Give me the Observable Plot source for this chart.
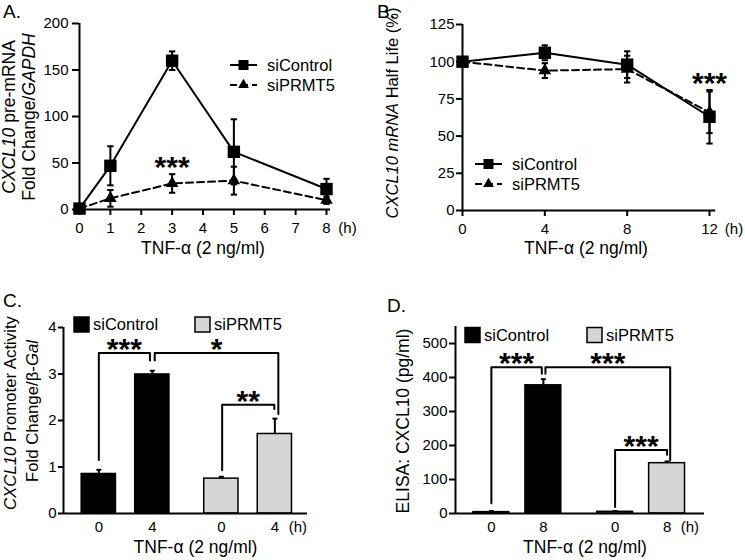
<!DOCTYPE html>
<html>
<head>
<meta charset="utf-8">
<script src="https://cdn.jsdelivr.net/npm/d3@7"></script>
<script src="https://cdn.jsdelivr.net/npm/@observablehq/plot@0.6"></script>
<style>
  html, body { margin: 0; padding: 0; background: #fff; }
  #fig { position: relative; width: 745px; height: 560px; overflow: hidden; background: #fff; }
  .panel { position: absolute; }
  .panel svg { display: block; }
</style>
</head>
<body>
<div id="fig"></div>
<script>
// ---------------- DATA ----------------
// Panel A: CXCL10 pre-mRNA fold change
const timesA = [0, 1, 3, 5, 8];
const ctrlA = [1, 47, 160, 62, 22];
const ctrlAErr = [0, 21, 10, 35, 11];
const prmtA = [1, 12, 28, 31, 10];
const prmtAErr = [0, 9, 10, 15, 4];
const xTicksA = [0, 1, 2, 3, 4, 5, 6, 7, 8];
const yTicksA = [0, 50, 100, 150, 200];
const sigA = [{t: 3, s: "siPRMT5", label: "***"}];

// Panel B: CXCL10 mRNA half life (%)
const timesB = [0, 4, 8, 12];
const ctrlB = [100, 106, 98, 63];
const ctrlBErr = [0, 5, 9, 18];
const prmtB = [100, 94, 95, 66];
const prmtBErr = [0, 5, 9, 14];
const yTicksB = [0, 25, 50, 75, 100, 125];
const sigB = [{t: 12, s: "siControl", label: "***"}];

// Panel C: promoter activity
const groups = ["siControl", "siPRMT5"];
const timeLabelsC = ["0", "4"];
const valsC = [0.85, 2.99, 0.75, 1.71];
const errC = [0.09, 0.08, 0.04, 0.33];
const yTicksC = [0, 1, 2, 3, 4];
const bracketsC = [
  {from: 0, to: 1, fromOff: 0, toOff: -0.045, yFrom: 1.15, yTop: 3.45, yTo: 3.29, label: "***"},
  {from: 1, to: 3, fromOff: 0.045, toOff: 0.065, yFrom: 3.29, yTop: 3.45, yTo: 2.14, label: "*"},
  {from: 2, to: 3, fromOff: 0.015, toOff: -0.01, yFrom: 0.93, yTop: 2.34, yTo: 2.25, label: "**"}
];

// Panel D: ELISA CXCL10 (pg/ml)
const timeLabelsD = ["0", "8"];
const valsD = [4, 377, 5, 148];
const errD = [3, 18, 2, 5];
const yTicksD = [0, 100, 200, 300, 400, 500];
const bracketsD = [
  {from: 0, to: 1, fromOff: 0, toOff: -0.03, yFrom: 30, yTop: 430, yTo: 411, label: "***"},
  {from: 1, to: 3, fromOff: 0.04, toOff: 0.06, yFrom: 411, yTop: 430, yTo: 156, label: "***"},
  {from: 2, to: 3, fromOff: 0, toOff: 0, yFrom: 19, yTop: 187, yTo: 173, label: "***"}
];

// ---------------- HELPERS ----------------
const FONT = '"Liberation Sans", Arial, Helvetica, sans-serif';
const STYLE = {fontFamily: FONT, fontSize: "15px", color: "black", background: "white", overflow: "visible"};
const capSym = { draw(ctx, size) { const w = Math.sqrt(size); ctx.moveTo(-w / 2, 0); ctx.lineTo(w / 2, 0); } };

function place(node, left, top) {
  const div = document.createElement("div");
  div.className = "panel";
  div.style.left = left + "px";
  div.style.top = top + "px";
  div.appendChild(node);
  document.getElementById("fig").appendChild(div);
}

function addText(svg, x, y, parts, {size = 17, rotate = false, anchor = "start", dy = null, weight = null} = {}) {
  const t = d3.select(svg).append("text")
    .attr("font-family", FONT).attr("font-size", size).attr("fill", "black")
    .attr("text-anchor", anchor)
    .attr("transform", rotate ? `translate(${x},${y}) rotate(-90)` : `translate(${x},${y})`);
  if (dy) t.attr("dy", dy);
  if (weight) t.attr("font-weight", weight);
  for (const [s, it] of parts) t.append("tspan").attr("font-style", it ? "italic" : "normal").text(s);
  return t;
}

function lineLegend(svg, x0, x1, tx, rows) {
  const g = d3.select(svg).append("g");
  for (const r of rows) {
    g.append("line").attr("x1", x0).attr("x2", x1).attr("y1", r.y).attr("y2", r.y)
      .attr("stroke", "black").attr("stroke-width", 2).attr("stroke-dasharray", r.dash || null);
    g.append("path").attr("d", d3.symbol(r.symbol, r.size)())
      .attr("transform", `translate(${(x0 + x1) / 2},${r.y})`).attr("fill", "black");
    addText(svg, tx, r.y, [[r.label, false]], {size: 16.5, dy: "0.35em"});
  }
}

function boxLegend(svg, rows, y, s) {
  for (const r of rows) {
    d3.select(svg).append("rect").attr("x", r.x).attr("y", y - s / 2).attr("width", s).attr("height", s)
      .attr("fill", r.fill).attr("stroke", "black").attr("stroke-width", 1.5);
    addText(svg, r.x + s + 4, y, [[r.label, false]], {size: 16.5, dy: "0.35em"});
  }
}

function seriesRows(times, c, ce, p, pe) {
  return [
    ...times.map((t, i) => ({t, v: c[i], e: ce[i], s: "siControl"})),
    ...times.map((t, i) => ({t, v: p[i], e: pe[i], s: "siPRMT5"}))
  ];
}

function sigPoints(rows, sig) {
  return sig.map(k => {
    const r = rows.find(d => d.t === k.t && d.s === k.s);
    return {t: k.t, y: r.v + r.e, label: k.label};
  });
}

function lineMarks(rows) {
  const ctrl = rows.filter(d => d.s === "siControl");
  const prmt = rows.filter(d => d.s === "siPRMT5");
  const we = rows.filter(d => d.e > 0);
  return [
    Plot.ruleX(we, {x: "t", y1: d => d.v - d.e, y2: d => d.v + d.e, stroke: "black", strokeWidth: 2}),
    Plot.dot(we, {x: "t", y: d => d.v + d.e, symbol: capSym, r: 3.6, stroke: "black", strokeWidth: 2, fill: "none"}),
    Plot.dot(we, {x: "t", y: d => d.v - d.e, symbol: capSym, r: 3.6, stroke: "black", strokeWidth: 2, fill: "none"}),
    Plot.line(ctrl, {x: "t", y: "v", stroke: "black", strokeWidth: 2}),
    Plot.line(prmt, {x: "t", y: "v", stroke: "black", strokeWidth: 2, strokeDasharray: "7,4"}),
    Plot.dot(ctrl, {x: "t", y: "v", symbol: "square", r: 7, fill: "black", stroke: "none"}),
    Plot.dot(prmt, {x: "t", y: "v", symbol: "triangle", r: 4.7, fill: "black", stroke: "none"})
  ];
}

function barRows(labels, vals, errs, gap) {
  return groups.flatMap((g, gi) => labels.map((t, ti) => ({
    g, t, pos: gi * gap + ti, v: vals[gi * labels.length + ti], e: errs[gi * labels.length + ti]
  })));
}

function barMarks(bars, brackets, halfW) {
  const pts = brackets.flatMap((b, i) => {
    const x1 = bars[b.from].pos + b.fromOff, x2 = bars[b.to].pos + b.toOff;
    return [{id: i, x: x1, y: b.yFrom}, {id: i, x: x1, y: b.yTop}, {id: i, x: x2, y: b.yTop}, {id: i, x: x2, y: b.yTo}];
  });
  const labs = brackets.map(b => ({
    x: ((bars[b.from].pos + b.fromOff) + (bars[b.to].pos + b.toOff)) / 2, y: b.yTop, label: b.label
  }));
  const rectOpts = {x1: d => d.pos - halfW, x2: d => d.pos + halfW, y1: 0, y2: "v", stroke: "black", strokeWidth: 1.5};
  return [
    Plot.ruleX(bars, {x: "pos", y1: "v", y2: d => d.v + d.e, stroke: "black", strokeWidth: 2}),
    Plot.dot(bars, {x: "pos", y: d => d.v + d.e, symbol: capSym, r: 2.8, stroke: "black", strokeWidth: 2, fill: "none"}),
    Plot.rect(bars.filter(d => d.g === "siControl"), {...rectOpts, fill: "black"}),
    Plot.rect(bars.filter(d => d.g === "siPRMT5"), {...rectOpts, fill: "#d6d6d6"}),
    Plot.line(pts, {x: "x", y: "y", z: "id", stroke: "black", strokeWidth: 2}),
    Plot.text(labs, {x: "x", y: "y", text: "label", fontSize: 30, fontWeight: "bold", lineAnchor: "middle", dy: -3.5})
  ];
}

const tnf = "TNF-\u03b1 (2 ng/ml)";

// ---------------- PANEL A ----------------
{
  const rows = seriesRows(timesA, ctrlA, ctrlAErr, prmtA, prmtAErr);
  const svg = Plot.plot({
    width: 372, height: 280, marginLeft: 79, marginRight: 46, marginTop: 23, marginBottom: 71,
    style: STYLE,
    x: {domain: [0, 8]}, y: {domain: [0, 200]},
    marks: [
      Plot.axisX({ticks: xTicksA, tickSize: 6, tickPadding: 7, tickFormat: d => d, label: null, strokeWidth: 2, fontSize: 15}),
      Plot.axisY({ticks: yTicksA, tickSize: 7, tickPadding: 4, tickFormat: d => d, label: null, strokeWidth: 2, fontSize: 15}),
      Plot.ruleY([0], {x1: 0, x2: 8.13, stroke: "black", strokeWidth: 2}),
      Plot.ruleX([0], {y1: 0, y2: 200, stroke: "black", strokeWidth: 2}),
      ...lineMarks(rows),
      Plot.text(sigPoints(rows, sigA), {x: "t", y: "y", text: "label", fontSize: 30, fontWeight: "bold", lineAnchor: "middle", dy: -6.5}),
      Plot.text(["(h)"], {x: 8.68, y: 0, text: d => d, fontSize: 15, lineAnchor: "top", dy: 13}),
      Plot.text([tnf], {frameAnchor: "bottom", text: d => d, fontSize: 17.5, lineAnchor: "middle", dy: 39})
    ]
  });
  addText(svg, 3, 18, [["A.", false]], {size: 19});
  addText(svg, 15, 117, [["CXCL10", true], [" pre-mRNA", false]], {rotate: true, anchor: "middle", size: 17.5});
  addText(svg, 35, 117, [["Fold Change/", false], ["GAPDH", true]], {rotate: true, anchor: "middle", size: 17.5});
  lineLegend(svg, 230, 257, 267, [
    {y: 65, symbol: d3.symbolSquare, size: 100, label: "siControl"},
    {y: 85, symbol: d3.symbolTriangle, size: 50, label: "siPRMT5", dash: "7,4"}
  ]);
  place(svg, 0, 0);
}

// ---------------- PANEL B ----------------
{
  const rows = seriesRows(timesB, ctrlB, ctrlBErr, prmtB, prmtBErr);
  const svg = Plot.plot({
    width: 373, height: 280, marginLeft: 90, marginRight: 36, marginTop: 24, marginBottom: 70,
    style: STYLE,
    x: {domain: [0, 12]}, y: {domain: [0, 125]},
    marks: [
      Plot.axisX({ticks: timesB, tickSize: 6, tickPadding: 7, tickFormat: d => d, label: null, strokeWidth: 2, fontSize: 15}),
      Plot.axisY({ticks: yTicksB, tickSize: 6, tickPadding: 2, tickFormat: d => d, label: null, strokeWidth: 2, fontSize: 15}),
      Plot.ruleY([0], {x1: 0, x2: 12.3, stroke: "black", strokeWidth: 2}),
      Plot.ruleX([0], {y1: 0, y2: 125, stroke: "black", strokeWidth: 2}),
      ...lineMarks(rows),
      Plot.text(sigPoints(rows, sigB), {x: "t", y: "y", text: "label", fontSize: 30, fontWeight: "bold", lineAnchor: "middle", dy: -6.5}),
      Plot.text(["(h)"], {x: 13.19, y: 0, text: d => d, fontSize: 15, lineAnchor: "top", dy: 13}),
      Plot.text([tnf], {frameAnchor: "bottom", text: d => d, fontSize: 17.5, lineAnchor: "middle", dy: 38})
    ]
  });
  addText(svg, 5, 18, [["B.", false]], {size: 19});
  addText(svg, 26, 113, [["CXCL10 mRNA", true], [" Half Life (%)", false]], {rotate: true, anchor: "middle", size: 16.5});
  lineLegend(svg, 103, 130, 140, [
    {y: 164, symbol: d3.symbolSquare, size: 100, label: "siControl"},
    {y: 184, symbol: d3.symbolTriangle, size: 50, label: "siPRMT5", dash: "7,4"}
  ]);
  place(svg, 372, 0);
}

// ---------------- PANEL C ----------------
{
  const bars = barRows(timeLabelsC, valsC, errC, 2.29);
  const svg = Plot.plot({
    width: 372, height: 280, marginLeft: 63, marginRight: 65, marginTop: 47, marginBottom: 47,
    style: STYLE,
    x: {domain: [-0.66, 3.9]}, y: {domain: [0, 4]},
    marks: [
      Plot.axisX({ticks: bars.map(d => d.pos), tickSize: 0, tickPadding: 8, tickFormat: p => bars.find(d => d.pos === p).t, label: null, fontSize: 15}),
      Plot.axisY({ticks: yTicksC, tickSize: 5, tickPadding: 2, tickFormat: d => d, label: null, strokeWidth: 2, fontSize: 15}),
      ...barMarks(bars, bracketsC, 0.32),
      Plot.ruleY([0], {x1: -0.66, x2: 3.9, stroke: "black", strokeWidth: 2}),
      Plot.ruleX([-0.66], {y1: 0, y2: 4, stroke: "black", strokeWidth: 2}),
      Plot.text(["(h)"], {x: 3.72, y: 0, text: d => d, fontSize: 15, lineAnchor: "top", dy: 8}),
      Plot.text([tnf], {frameAnchor: "bottom", text: d => d, fontSize: 17.5, lineAnchor: "middle", dy: 34, dx: 10})
    ]
  });
  addText(svg, 3, 27, [["C.", false]], {size: 19});
  addText(svg, 16, 133, [["CXCL10", true], [" Promoter Activity", false]], {rotate: true, anchor: "middle", size: 16.8});
  addText(svg, 38, 131, [["Fold Change/\u03b2-", false], ["Gal", true]], {rotate: true, anchor: "middle", size: 16.8});
  boxLegend(svg, [{x: 74, fill: "black", label: "siControl"}, {x: 195, fill: "#d6d6d6", label: "siPRMT5"}], 44.5, 15);
  place(svg, 0, 280);
}

// ---------------- PANEL D ----------------
{
  const bars = barRows(timeLabelsD, valsD, errD, 2.38);
  const svg = Plot.plot({
    width: 373, height: 280, marginLeft: 83, marginRight: 41, marginTop: 46, marginBottom: 47,
    style: STYLE,
    x: {domain: [-0.69, 4.1]}, y: {domain: [0, 550]},
    marks: [
      Plot.axisX({ticks: bars.map(d => d.pos), tickSize: 0, tickPadding: 8, tickFormat: p => bars.find(d => d.pos === p).t, label: null, fontSize: 15}),
      Plot.axisY({ticks: yTicksD, tickSize: 6, tickPadding: 2, tickFormat: d => d, label: null, strokeWidth: 2, fontSize: 15}),
      ...barMarks(bars, bracketsD, 0.345),
      Plot.ruleY([0], {x1: -0.69, x2: 4.1, stroke: "black", strokeWidth: 2}),
      Plot.ruleX([-0.69], {y1: 0, y2: 550, stroke: "black", strokeWidth: 2}),
      Plot.text(["(h)"], {x: 3.82, y: 0, text: d => d, fontSize: 15, lineAnchor: "top", dy: 8}),
      Plot.text([tnf], {frameAnchor: "bottom", text: d => d, fontSize: 17.5, lineAnchor: "middle", dy: 34, dx: 5})
    ]
  });
  addText(svg, 15, 32, [["D.", false]], {size: 19});
  addText(svg, 37, 141, [["ELISA: CXCL10 (pg/ml)", false]], {rotate: true, anchor: "middle", size: 17.5});
  boxLegend(svg, [{x: 93, fill: "black", label: "siControl"}, {x: 215, fill: "#d6d6d6", label: "siPRMT5"}], 55, 15);
  place(svg, 372, 280);
}
</script>
</body>
</html>
